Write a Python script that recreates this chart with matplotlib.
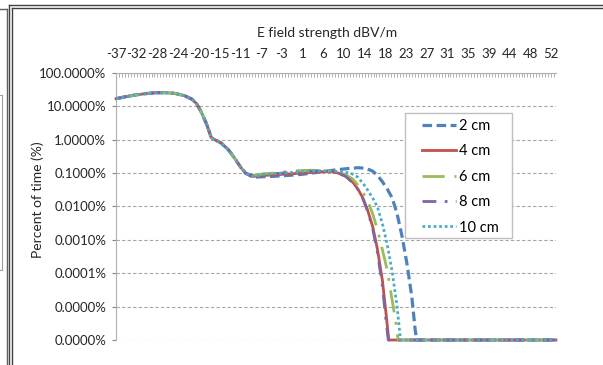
import numpy as np
import matplotlib
matplotlib.use("Agg")
import matplotlib.pyplot as plt
from matplotlib.lines import Line2D
from matplotlib.patches import Rectangle

plt.rcParams['font.family'] = ['Lato', 'DejaVu Sans']

# x categories shown on top axis
x_labels = ['-37', '-32', '-28', '-24', '-20', '-15', '-11', '-7', '-3', '1', '6',
            '10', '14', '18', '23', '27', '31', '35', '39', '44', '48', '52']
y_ticks = [1e-6, 1e-5, 1e-4, 1e-3, 1e-2, 1e-1, 1, 10, 100]
y_labels = ['0.0000%', '0.0000%', '0.0001%', '0.0010%', '0.0100%', '0.1000%',
            '1.0000%', '10.0000%', '100.0000%']

# shared part of all curves (dBV/m, percent of time)
common_db = [-37, -35, -33, -31, -29, -27, -25, -23, -21.5, -20.5, -19.5, -18.5,
             -17.5, -16.5, -15.5, -14, -12.5, -11.5, -10.5]
common_pct = [17, 19.5, 22, 24, 25.5, 25.8, 24.5, 21, 16.5, 12, 6.5, 3,
              1.15, 0.95, 0.8, 0.5, 0.25, 0.15, 0.1]

db_2cm = [-9, -7, -5, -3, -1, 1, 3, 5, 7, 9, 11, 12.5, 14, 15.5, 16.5, 17.5,
          18.5, 19.5, 20.5, 21.5, 22.5, 23.5, 24.2, 24.5, 53]
pct_2cm = [0.075, 0.078, 0.08, 0.083, 0.087, 0.092, 0.1, 0.11, 0.12, 0.13, 0.14,
           0.145, 0.14, 0.115, 0.085, 0.055, 0.033, 0.018, 0.006, 0.0013, 0.0002,
           2e-5, 2e-6, 1e-6, 1e-6]

db_4cm = [-9, -7, -5, -3, -1, 1, 3, 5, 7, 8.5, 10, 11.5, 12.5, 13.5, 14.5, 15.5,
          16.5, 17.5, 18.3, 18.8, 53]
pct_4cm = [0.08, 0.085, 0.088, 0.092, 0.096, 0.1, 0.105, 0.11, 0.11, 0.1, 0.08,
           0.052, 0.033, 0.018, 0.0075, 0.0025, 5e-4, 6e-5, 5e-6, 1e-6, 1e-6]

db_6cm = [-9, -7, -5, -3, -1, 1, 3, 5, 7, 8.5, 10, 11.5, 13, 14.5, 15.5, 16.5,
          17.5, 18.5, 19.5, 20.3, 20.7, 53]
pct_6cm = [0.085, 0.095, 0.1, 0.108, 0.115, 0.12, 0.122, 0.12, 0.115, 0.105, 0.09,
           0.065, 0.035, 0.015, 0.006, 0.002, 5e-4, 1.2e-4, 1.5e-5, 3e-6, 1e-6, 1e-6]

db_8cm = [-9, -7, -5, -3, -1, 1, 3, 5, 7, 8.5, 10, 11.5, 12.5, 13.5, 14.5, 15.5,
          16.5, 17.5, 18.3, 18.7, 53]
pct_8cm = [0.082, 0.09, 0.095, 0.1, 0.105, 0.11, 0.113, 0.115, 0.112, 0.1, 0.08,
           0.05, 0.032, 0.017, 0.007, 0.0022, 4e-4, 4e-5, 3e-6, 1e-6, 1e-6]

db_10cm = [-9, -7, -5, -3, -1, 1, 3, 5, 7, 9, 11, 12.5, 14, 15.5, 16.5, 17.5,
           18.5, 19.5, 20.5, 21.2, 53]
pct_10cm = [0.08, 0.088, 0.095, 0.1, 0.105, 0.11, 0.115, 0.118, 0.115, 0.11, 0.1,
            0.075, 0.04, 0.018, 0.0095, 0.003, 7e-4, 1.1e-4, 1e-5, 1e-6, 1e-6]

series = [
    ('2 cm', db_2cm, pct_2cm, '#4F81BD', (0, (3, 1.4)), 2.3),
    ('4 cm', db_4cm, pct_4cm, '#C0504D', '-', 2.0),
    ('6 cm', db_6cm, pct_6cm, '#9BBB59', (0, (8, 3.5, 1, 3.5)), 2.0),
    ('8 cm', db_8cm, pct_8cm, '#8064A2', (0, (5, 3, 1, 3)), 2.0),
    ('10 cm', db_10cm, pct_10cm, '#4BACC6', (0, (1, 1)), 2.0),
]

W, H = 603, 365
fig = plt.figure(figsize=(W / 100, H / 100), dpi=100)
ax = fig.add_axes([116 / W, 1 - 340 / H, 440 / W, 267 / H])

for name, db, pct, color, ls, lw in series:
    ax.plot(common_db + db, common_pct + pct, color=color, linestyle=ls,
            linewidth=lw, label=name, clip_on=False, zorder=3)

ax.set_yscale('log')
ax.set_ylim(1e-6, 100)
ax.set_xlim(-37, 53)
ax.set_yticks(y_ticks)
ax.set_yticklabels(y_labels)
ax.yaxis.set_minor_locator(matplotlib.ticker.NullLocator())
ax.tick_params(axis='y', length=3, color='#868686', labelsize=9.5,
               labelcolor='#262626', pad=4)

# category style top axis
step = 89 / 21
ax.xaxis.tick_top()
ax.set_xticks([-37 + i * step for i in range(len(x_labels))])
ax.set_xticklabels(x_labels)
ax.set_xticks(np.arange(-37, 53, step / 7), minor=True)
ax.tick_params(axis='x', which='both', direction='in', length=3, width=0.6,
               color='#A0A0A0', labelsize=9.5, labelcolor='#262626', pad=9)

for g in y_ticks[:-1]:
    ax.axhline(g, color='#A6A6A6', linestyle=(0, (3, 2)), linewidth=0.8, zorder=1)

for s in ['bottom', 'right']:
    ax.spines[s].set_visible(False)
ax.spines['left'].set_color('#B0B0B0')
ax.spines['top'].set_color('#B0B0B0')

ax.text((327 - 116) / 440, 1 + (73 - 33) / 267, 'E field strength dBV/m',
        transform=ax.transAxes, ha='center', va='center', fontsize=10,
        color='#262626')
fig.text(38 / W, 1 - 200 / H, 'Percent of time (%)', rotation=90,
         ha='center', va='center', fontsize=10, color='#262626')

# legend box drawn by hand, entries without frame
ax.add_patch(Rectangle((405 / W, 1 - 238 / H), 107 / W, 125 / H,
                       transform=fig.transFigure, facecolor='white',
                       edgecolor='#BFBFBF', linewidth=1.0, zorder=4,
                       clip_on=False))
leg = ax.legend(loc='upper left', bbox_to_anchor=(422 / W, 1 - 119 / H),
                bbox_transform=fig.transFigure, fontsize=10.5, frameon=False,
                handlelength=2.33, handletextpad=0.2, labelspacing=0.78,
                borderpad=0, borderaxespad=0)
leg.set_zorder(5)

# surrounding frame bits
def fline(x0, y0, x1, y1, c, lw):
    fig.add_artist(Line2D([x0 / W, x1 / W], [1 - y0 / H, 1 - y1 / H],
                          color=c, linewidth=lw))

fline(9, 5, 9, 365, '#404040', 1.0)
fline(11.5, 7.5, 11.5, 365, '#404040', 1.0)
fline(9, 5, 603, 5, '#404040', 1.0)
fline(11.5, 7.5, 603, 7.5, '#404040', 1.0)
fline(0, 9, 7, 9, '#606060', 1.0)
fline(7, 9, 7, 365, '#606060', 1.0)
fline(0, 95, 2, 95, '#A0A0A0', 0.8)
fline(2, 95, 2, 270, '#A0A0A0', 0.8)
fline(0, 270, 2, 270, '#A0A0A0', 0.8)

fig.savefig('out.png', dpi=100)
